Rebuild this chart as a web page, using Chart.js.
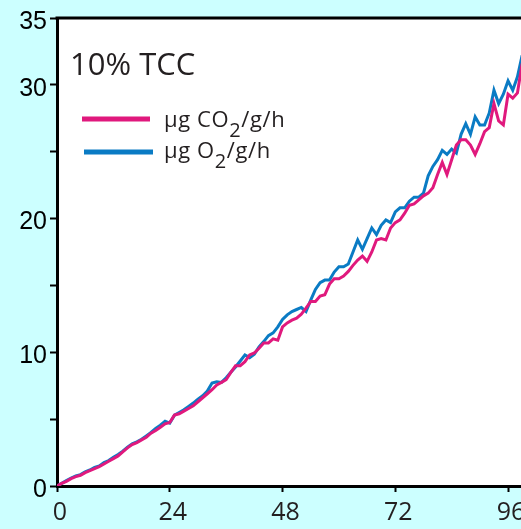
<!DOCTYPE html>
<html>
<head>
<meta charset="utf-8">
<script src="https://cdn.jsdelivr.net/npm/chart.js@4.4.1/dist/chart.umd.min.js"></script>
<style>
  html, body { margin: 0; padding: 0; background: #ccffff; overflow: hidden; }
  #wrap { width: 521px; height: 529px; overflow: hidden; }
</style>
</head>
<body>
<div id="wrap"><canvas id="myChart" width="540" height="529"></canvas></div>
<script>
// incubation time, h
var hours = [
  0, 1, 2, 3, 4, 5, 6, 7, 8, 9, 10, 11, 12, 13, 14, 15, 16, 17, 18, 19,
  20, 21, 22, 23, 24, 25, 26, 27, 28, 29, 30, 31, 32, 33, 34, 35, 36, 37, 38, 39,
  40, 41, 42, 43, 44, 45, 46, 47, 48, 49, 50, 51, 52, 53, 54, 55, 56, 57, 58, 59,
  60, 61, 62, 63, 64, 65, 66, 67, 68, 69, 70, 71, 72, 73, 74, 75, 76, 77, 78, 79,
  80, 81, 82, 83, 84, 85, 86, 87, 88, 89, 90, 91, 92, 93, 94, 95, 96, 97, 98, 99
];

// cumulative CO2 released, ug/g/h
var co2 = [
  0.0, 0.2, 0.35, 0.55, 0.7, 0.8, 1.0, 1.15, 1.3, 1.45,
  1.65, 1.85, 2.05, 2.25, 2.55, 2.85, 3.1, 3.25, 3.45, 3.65,
  3.95, 4.15, 4.4, 4.65, 4.75, 5.3, 5.4, 5.6, 5.8, 6.0,
  6.3, 6.6, 6.9, 7.2, 7.55, 7.75, 7.95, 8.5, 9.0, 9.0,
  9.3, 9.8, 9.95, 10.3, 10.7, 10.7, 11.0, 10.9, 11.9, 12.2,
  12.4, 12.55, 12.85, 13.3, 13.8, 13.8, 14.2, 14.3, 15.1, 15.5,
  15.5, 15.7, 16.05, 16.5, 16.9, 17.2, 16.8, 17.5, 18.4, 18.5,
  18.4, 19.3, 19.7, 19.9, 20.4, 21.0, 21.1, 21.4, 21.7, 21.9,
  22.3, 23.3, 24.2, 23.3, 24.4, 25.5, 25.9, 25.9, 25.5, 24.8,
  25.6, 26.5, 26.8, 28.6, 27.3, 27.0, 29.3, 29.0, 29.4, 31.6
];

// cumulative O2 consumed, ug/g/h
var o2 = [
  0.0, 0.2, 0.4, 0.6, 0.75, 0.85, 1.05, 1.2, 1.4, 1.5,
  1.75, 1.9, 2.15, 2.35, 2.6, 2.9, 3.15, 3.3, 3.5, 3.75,
  4.0, 4.3, 4.55, 4.85, 4.7, 5.3, 5.5, 5.7, 5.95, 6.2,
  6.5, 6.75, 7.1, 7.7, 7.8, 7.75, 8.1, 8.5, 8.9, 9.35,
  9.8, 9.6, 9.85, 10.4, 10.8, 11.25, 11.45, 11.9, 12.45, 12.8,
  13.05, 13.2, 13.35, 13.05, 13.9, 14.7, 15.2, 15.4, 15.4, 16.0,
  16.4, 16.4, 16.6, 17.5, 18.4, 17.7, 18.5, 19.3, 18.8, 19.5,
  19.9, 19.7, 20.5, 20.8, 20.8, 21.3, 21.6, 21.6, 21.9, 23.2,
  23.9, 24.4, 25.1, 24.8, 25.2, 24.9, 26.3, 27.1, 26.3, 27.6,
  27.0, 27.0, 27.9, 29.6, 28.6, 29.3, 30.3, 29.6, 30.6, 32.2
];

var xTicks = [0, 24, 48, 72, 96];
var yLabels = [0, 10, 20, 30, 35];

var PINK = '#e0197d';
var BLUE = '#0a7bc4';
var INK = '#231f20';

function points(values) {
  return hours.map(function (h, i) { return { x: h, y: values[i] }; });
}

// white plot area, top frame line, title and legend with subscripts
var framePlugin = {
  id: 'frame',
  beforeDraw: function (chart) {
    var a = chart.chartArea, ctx = chart.ctx;
    ctx.save();
    ctx.fillStyle = '#ffffff';
    ctx.fillRect(a.left, a.top, chart.width - a.left, a.bottom - a.top);
    ctx.restore();
  },
  afterDraw: function (chart) {
    var a = chart.chartArea, ctx = chart.ctx;
    ctx.save();
    ctx.strokeStyle = '#000';
    ctx.lineWidth = 3;
    ctx.beginPath();
    ctx.moveTo(a.left - 1.5, a.top);
    ctx.lineTo(chart.width, a.top);
    ctx.stroke();

    ctx.fillStyle = INK;
    ctx.textBaseline = 'alphabetic';
    ctx.font = '31px "Open Sans"';
    ctx.fillText('10% TCC', 70, 75);

    var items = [
      { color: PINK, x0: 82, x1: 150, y: 119, base: 127, head: '\u03bcg CO' },
      { color: BLUE, x0: 84, x1: 153, y: 152, base: 158, head: '\u03bcg O' }
    ];
    ctx.letterSpacing = '0.6px';
    items.forEach(function (it) {
      ctx.strokeStyle = it.color;
      ctx.lineWidth = 5;
      ctx.beginPath();
      ctx.moveTo(it.x0, it.y);
      ctx.lineTo(it.x1, it.y);
      ctx.stroke();

      var x = 164;
      ctx.font = '22px "Open Sans"';
      ctx.fillText(it.head, x, it.base);
      x += ctx.measureText(it.head).width;
      ctx.font = '20px "Open Sans"';
      ctx.fillText('2', x, it.base + 10);
      x += ctx.measureText('2').width;
      ctx.font = '22px "Open Sans"';
      ctx.fillText('/g/h', x, it.base);
    });
    ctx.restore();
  }
};

new Chart(document.getElementById('myChart').getContext('2d'), {
  type: 'line',
  data: {
    datasets: [
      { label: 'CO2', data: points(co2), borderColor: PINK, borderWidth: 3, pointRadius: 0, tension: 0 },
      { label: 'O2', data: points(o2), borderColor: BLUE, borderWidth: 3, pointRadius: 0, tension: 0 }
    ]
  },
  plugins: [framePlugin],
  options: {
    responsive: false,
    animation: false,
    layout: { padding: { top: 17, left: 0, right: 0, bottom: 0 } },
    plugins: { legend: { display: false }, tooltip: { enabled: false } },
    scales: {
      x: {
        type: 'linear',
        min: 0,
        max: 102.8,
        afterBuildTicks: function (scale) {
          scale.ticks = xTicks.map(function (v) { return { value: v }; });
        },
        afterFit: function (scale) { scale.height = 43; },
        grid: { drawOnChartArea: false, tickLength: 6, tickColor: '#000', tickWidth: 2 },
        border: { color: '#000', width: 3 },
        ticks: {
          color: INK,
          font: { family: 'Open Sans', size: 25 },
          padding: 6,
          labelOffset: 3,
          maxRotation: 0
        }
      },
      y: {
        min: 0,
        max: 35,
        afterFit: function (scale) { scale.width = 57; },
        grid: { drawOnChartArea: false, tickLength: 7, tickColor: '#000', tickWidth: 2 },
        border: { color: '#000', width: 3 },
        ticks: {
          stepSize: 5,
          color: '#000',
          font: { family: 'Liberation Sans', size: 25 },
          padding: 3,
          labelOffset: 4,
          callback: function (v) { return yLabels.indexOf(v) >= 0 ? v : ''; }
        }
      }
    }
  }
});
</script>
</body>
</html>
